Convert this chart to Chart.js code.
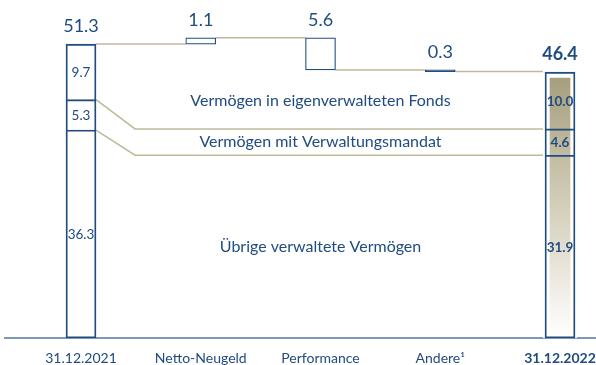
<!DOCTYPE html>
<html>
<head>
<meta charset="utf-8">
<script src="https://cdn.jsdelivr.net/npm/chart.js@4/dist/chart.umd.min.js"></script>
<style>
  html, body { margin: 0; padding: 0; background: #ffffff; }
  #wrap { width: 596px; height: 365px; position: relative; }
</style>
</head>
<body>
<div id="wrap"><canvas id="chart"></canvas></div>
<script>
// Categories along the x axis
const categories = ['31.12.2021', 'Netto-Neugeld', 'Performance', 'Andere\u00B9', '31.12.2022'];

// Asset components, bottom to top
const segmentNames = ['Übrige verwaltete Vermögen', 'Vermögen mit Verwaltungsmandat', 'Vermögen in eigenverwalteten Fonds'];
const startSegments = [36.3, 5.3, 9.7];
const endSegments = [31.9, 4.6, 10.0];

// Totals and movements (bn)
const startTotal = 51.3;
const changes = [1.1, -5.6, -0.3];
const endTotal = 46.4;

const NAVY = '#214c80';
const OLIVE = '#c0b999';
const FONT = 'Lato, "Open Sans", sans-serif';

const round1 = v => Math.round(v * 10) / 10;

// cumulative [from, to] ranges of the lower components of a stacked column
function lowerRanges(values) {
  let acc = 0;
  return values.slice(0, -1).map(v => {
    const r = [acc, round1(acc + v)];
    acc = r[1];
    return r;
  });
}
const startRanges = lowerRanges(startSegments);
const endRanges = lowerRanges(endSegments);

// floating ranges for the waterfall steps
const stepRanges = [];
let running = startTotal;
changes.forEach(c => {
  const next = round1(running + c);
  stepRanges.push([running, next]);
  running = next;
});

const firstIdx = 0, lastIdx = categories.length - 1;

const outline = {
  type: 'bar',
  backgroundColor: 'rgba(0,0,0,0)',
  borderColor: NAVY,
  borderWidth: 1.2,
  borderSkipped: false,
  barThickness: 30,
  grouped: false,
  order: 0
};

const datasets = [
  // total columns
  Object.assign({}, outline, {
    label: 'total',
    data: [{ x: firstIdx, y: [0, startTotal] }, { x: lastIdx, y: [0, endTotal] }]
  }),
  // lower components: only their upper edge is drawn, as a divider
  ...startRanges.map((r, i) => Object.assign({}, outline, {
    label: segmentNames[i],
    borderWidth: { top: 1.2, left: 0, right: 0, bottom: 0 },
    data: [{ x: firstIdx, y: r }, { x: lastIdx, y: endRanges[i] }]
  })),
  // waterfall steps
  Object.assign({}, outline, {
    label: 'steps',
    backgroundColor: ctx => {
      const r = stepRanges[ctx.dataIndex];
      return r && Math.abs(r[1] - r[0]) < 0.5 ? NAVY : '#ffffff';
    },
    data: stepRanges.map((r, i) => ({ x: i + 1, y: r }))
  }),
  // shaded inner column of the closing total
  {
    type: 'bar',
    label: 'shade',
    data: [{ x: lastIdx, y: [0, endTotal] }],
    barThickness: 30,
    grouped: false,
    borderSkipped: false,
    borderWidth: { top: 6, left: 5, right: 5, bottom: 0 },
    borderColor: 'rgba(0,0,0,0)',
    backgroundColor: ctx => {
      const chart = ctx.chart;
      if (!chart.chartArea) return '#c9c3a7';
      const y = chart.scales.y;
      const g = chart.ctx.createLinearGradient(0, y.getPixelForValue(endTotal), 0, y.getPixelForValue(0));
      g.addColorStop(0, '#a49d7c');
      g.addColorStop(0.5, '#d3ceb9');
      g.addColorStop(1, '#ffffff');
      return g;
    },
    order: 1
  },
  // white ground under the closing total
  {
    type: 'bar',
    label: 'ground',
    data: [{ x: lastIdx, y: [0, endTotal] }],
    barThickness: 30,
    grouped: false,
    borderWidth: 0,
    inflateAmount: 2,
    backgroundColor: '#ffffff',
    order: 2
  }
];

const STEP_META = 1 + startRanges.length;

function barEdges(el) {
  const p = el.getProps(['x', 'width'], true);
  return { left: p.x - p.width / 2, right: p.x + p.width / 2, x: p.x };
}

// connector lines between the columns
const connectors = {
  id: 'connectors',
  beforeDatasetsDraw(chart) {
    const c = chart.ctx;
    const y = chart.scales.y;
    const totals = chart.getDatasetMeta(0).data;
    const steps = chart.getDatasetMeta(STEP_META).data;
    const first = barEdges(totals[0]);
    const last = barEdges(totals[1]);
    c.save();
    c.strokeStyle = OLIVE;
    c.lineWidth = 1.5;
    const seg = (x1, v1, x2, v2) => {
      c.beginPath();
      c.moveTo(x1, y.getPixelForValue(v1));
      c.lineTo(x2, y.getPixelForValue(v2));
      c.stroke();
    };
    let prevRight = first.right;
    let level = startTotal;
    steps.forEach((el, i) => {
      const e = barEdges(el);
      seg(prevRight, level, e.left, level);
      prevRight = e.right;
      level = stepRanges[i][1];
    });
    seg(prevRight, level, last.left, level);
    // component boundaries, old level to new level
    const bend = first.right + 39;
    startRanges.forEach((r, i) => {
      const from = r[1], to = endRanges[i][1];
      c.beginPath();
      c.moveTo(first.right, y.getPixelForValue(from));
      c.lineTo(bend, y.getPixelForValue(to));
      c.lineTo(last.left, y.getPixelForValue(to));
      c.stroke();
    });
    c.restore();
  }
};

// value labels and component names
const labels = {
  id: 'labels',
  afterDatasetsDraw(chart) {
    const c = chart.ctx;
    const y = chart.scales.y;
    const xs = chart.scales.x;
    const totals = chart.getDatasetMeta(0).data;
    const steps = chart.getDatasetMeta(STEP_META).data;
    c.save();
    c.fillStyle = NAVY;
    c.textAlign = 'center';

    // totals above the columns
    c.textBaseline = 'alphabetic';
    c.font = '18px ' + FONT;
    c.fillText(startTotal.toFixed(1), totals[0].x, y.getPixelForValue(startTotal) - 12);
    c.font = 'bold 18px ' + FONT;
    c.fillText(endTotal.toFixed(1), totals[1].x, y.getPixelForValue(endTotal) - 12);

    // movements above the steps
    c.font = '18px ' + FONT;
    steps.forEach((el, i) => {
      const top = Math.max(stepRanges[i][0], stepRanges[i][1]);
      c.fillText(Math.abs(changes[i]).toFixed(1), el.x, y.getPixelForValue(top) - 12);
    });

    // component values inside the columns
    c.textBaseline = 'middle';
    const inside = (vals, total, x, font) => {
      c.font = font;
      let acc = 0;
      vals.forEach((v, i) => {
        const top = i === vals.length - 1 ? total : round1(acc + v);
        const mid = (y.getPixelForValue(acc) + y.getPixelForValue(top)) / 2;
        c.fillText(v.toFixed(1), x, mid + 1);
        acc = top;
      });
    };
    inside(startSegments, startTotal, totals[0].x, '13.5px ' + FONT);
    inside(endSegments, endTotal, totals[1].x, 'bold 13.5px ' + FONT);

    // component names across the middle
    c.font = '16px ' + FONT;
    const nameX = xs.getPixelForValue(2);
    let acc = 0;
    endSegments.forEach((v, i) => {
      const top = i === endSegments.length - 1 ? endTotal : round1(acc + v);
      const mid = (y.getPixelForValue(acc) + y.getPixelForValue(top)) / 2;
      c.fillText(segmentNames[i], nameX, mid);
      acc = top;
    });
    c.restore();
  }
};

new Chart(document.getElementById('chart'), {
  type: 'bar',
  data: { datasets },
  options: {
    responsive: true,
    maintainAspectRatio: false,
    animation: false,
    devicePixelRatio: 1,
    layout: { padding: { left: 5, right: 0, top: 0, bottom: 0 } },
    plugins: { legend: { display: false }, tooltip: { enabled: false } },
    scales: {
      x: {
        type: 'linear',
        offset: false,
        min: -0.6347,
        max: 4.3006,
        grid: { display: false, drawTicks: false, offset: false },
        border: { display: true, color: '#7b98bb', width: 2 },
        afterBuildTicks: scale => { scale.ticks = categories.map((_, i) => ({ value: i })); },
        afterFit: scale => { scale.height = 27; scale.paddingLeft = 0; scale.paddingRight = 0; },
        ticks: {
          autoSkip: false,
          maxRotation: 0,
          padding: 12,
          color: NAVY,
          font: ctx => ({ family: FONT, size: 14, weight: ctx.index === lastIdx ? 'bold' : 'normal' }),
          callback: v => categories[v]
        }
      },
      y: {
        display: false,
        min: 0,
        max: 59
      }
    }
  },
  plugins: [connectors, labels]
});
</script>
</body>
</html>
